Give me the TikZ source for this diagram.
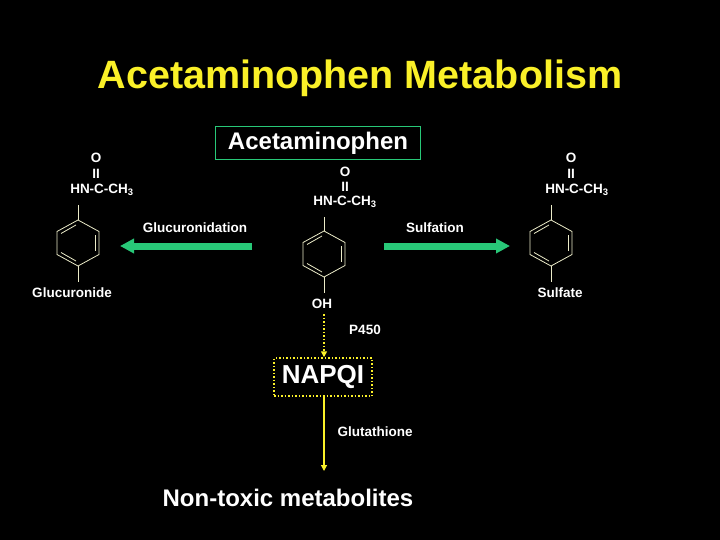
\documentclass[tikz,border=0pt]{standalone}
\usepackage{fontspec}
\setmainfont{Liberation Sans}
\usetikzlibrary{arrows.meta}
\definecolor{ttl}{RGB}{250,240,40}
\definecolor{grn}{RGB}{40,200,120}
\definecolor{ringc}{RGB}{235,235,200}
\begin{document}
\begin{tikzpicture}[x=1pt,y=-1pt,
  lbl/.style={text=white,font=\bfseries\fontsize{13.5}{15}\selectfont,inner sep=0pt},
  bond/.style={draw=ringc,line width=0.8pt},
  garrow/.style={draw=grn,line width=7pt,-{Triangle[length=14pt,width=14pt]}}]
\fill[black] (0,0) rectangle (720,540);
\node[text=ttl,font=\bfseries\fontsize{39.5}{42}\selectfont] (title) at (360,78) {Acetaminophen Metabolism};
\node[draw=grn,line width=1pt,text=white,font=\bfseries\fontsize{24}{26}\selectfont,minimum width=205pt,minimum height=33pt,inner sep=0pt] (acet) at (318,143) {Acetaminophen};
\newcommand{\ring}[3]{%
  \begin{scope}[shift={(#1,#2)}]
  \draw[bond] (0,-23)--(21,-11.5)--(21,11.5)--(0,23)--(-21,11.5)--(-21,-11.5)--cycle;
  \draw[bond] (-17,-9.5)--(-2,-18);
  \draw[bond] (17,-8)--(17,8);
  \draw[bond] (-17,9.5)--(-2,18);
  \coordinate (#3t) at (0,-23); \coordinate (#3b) at (0,23);
  \end{scope}}
% left
\node[lbl] (lo) at (96,158) {O};
\node[lbl] (lii) at (96,174) {II};
\node[lbl] (lhn) at (102,190) {HN-C-CH\textsubscript{3}};
\ring{78}{243}{L}
\coordinate (la) at (78,205); \coordinate (lb) at (78,282);
\draw[bond] (la)--(Lt); \draw[bond] (Lb)--(lb);
\node[lbl] (gluc) at (72,293) {Glucuronide};
% center
\node[lbl] (co) at (345,172) {O};
\node[lbl] (cii) at (345,187) {II};
\node[lbl] (chn) at (345,202) {HN-C-CH\textsubscript{3}};
\ring{324}{254}{C}
\coordinate (ca) at (324,217); \coordinate (cb) at (324,293);
\draw[bond] (ca)--(Ct); \draw[bond] (Cb)--(cb);
\node[lbl] (oh) at (322,304) {OH};
% right
\node[lbl] (ro) at (571,158) {O};
\node[lbl] (rii) at (571,174) {II};
\node[lbl] (rhn) at (577,190) {HN-C-CH\textsubscript{3}};
\ring{551}{243}{R}
\coordinate (ra) at (551,205); \coordinate (rb) at (551,282);
\draw[bond] (ra)--(Rt); \draw[bond] (Rb)--(rb);
\node[lbl] (sulf) at (560,293) {Sulfate};
% green arrows
\coordinate (g1s) at (252,246); \coordinate (g1e) at (120,246);
\coordinate (g2s) at (384,246); \coordinate (g2e) at (510,246);
\draw[garrow] (g1s)--(g1e);
\draw[garrow] (g2s)--(g2e);
\node[lbl] (glab) at (195,228) {Glucuronidation};
\node[lbl] (slab) at (435,228) {Sulfation};
% lower path
\node[draw=ttl,dotted,line width=1.5pt,text=white,font=\bfseries\fontsize{26}{28}\selectfont,minimum width=98pt,minimum height=38pt,inner sep=0pt] (napqi) at (323,377) {NAPQI};
\draw[ttl,dotted,line width=1.5pt,-{Triangle[length=6pt,width=6pt]}] (324,314)--(napqi.north -| 324,0);
\node[lbl] (p450) at (365,330) {P450};
\node[text=white,font=\bfseries\fontsize{24}{26}\selectfont,inner sep=0pt] (nontox) at (288,498) {Non-toxic metabolites};
\coordinate (nt) at (324,471);
\draw[ttl,line width=1.2pt,-{Triangle[length=6pt,width=6pt]}] (napqi.south -| 324,0)--(nt);
\node[lbl] (glut) at (375,432) {Glutathione};
\end{tikzpicture}
\end{document}
